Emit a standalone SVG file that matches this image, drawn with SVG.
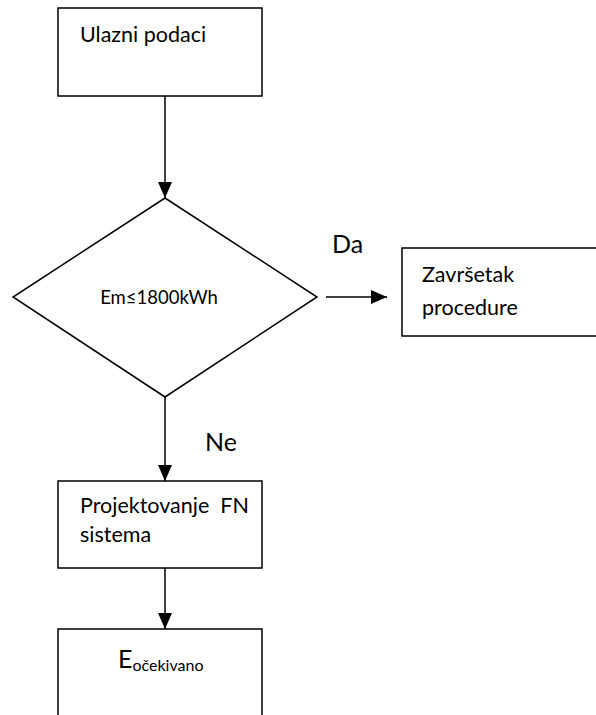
<svg xmlns="http://www.w3.org/2000/svg" width="596" height="715" viewBox="0 0 596 715">
<style>
.box{fill:#fff;stroke:#000;stroke-width:1.5}
.ln{stroke:#000;stroke-width:1.5;fill:none}
text{font-family:Lato,"Open Sans",sans-serif;fill:#000}
.t{font-size:21.5px}
.s{font-size:18.5px}
.l{font-size:25px}
</style>
<defs>
<marker id="ah" markerWidth="16" markerHeight="14" refX="16" refY="7" orient="auto" markerUnits="userSpaceOnUse">
<path d="M0,0 L16,7 L0,14 Z" fill="#000"/>
</marker>
</defs>
<rect width="596" height="715" fill="#fff"/>
<g id="connectors">
<line class="ln" x1="165" y1="96" x2="165" y2="198" marker-end="url(#ah)"/>
<line class="ln" x1="326" y1="297" x2="387" y2="297" marker-end="url(#ah)"/>
<line class="ln" x1="165" y1="397" x2="165" y2="481" marker-end="url(#ah)"/>
<line class="ln" x1="165" y1="568" x2="165" y2="629" marker-end="url(#ah)"/>
<text class="l" x="332" y="253">Da</text>
<text class="l" x="205" y="451">Ne</text>
</g>
<g id="n1">
<rect class="box" x="58" y="8" width="204" height="88"/>
<text class="t" x="80" y="42">Ulazni podaci</text>
</g>
<g id="n2">
<polygon class="box" points="165,198 317,297 165,397 13,297"/>
<text class="s" x="159" y="304" text-anchor="middle">Em≤1800kWh</text>
</g>
<g id="n3">
<rect class="box" x="402" y="248" width="200" height="88"/>
<text class="t" x="422" y="282">Završetak</text>
<text class="t" x="422" y="315">procedure</text>
</g>
<g id="n4">
<rect class="box" x="58" y="481" width="204" height="87"/>
<text class="t" x="80" y="513" xml:space="preserve">Projektovanje  FN</text>
<text class="t" x="80" y="542">sistema</text>
</g>
<g id="n5">
<rect class="box" x="58" y="629" width="204" height="100"/>
<text x="118" y="668"><tspan font-size="25">E</tspan><tspan font-size="16" dy="3">očekivano</tspan></text>
</g>
</svg>
